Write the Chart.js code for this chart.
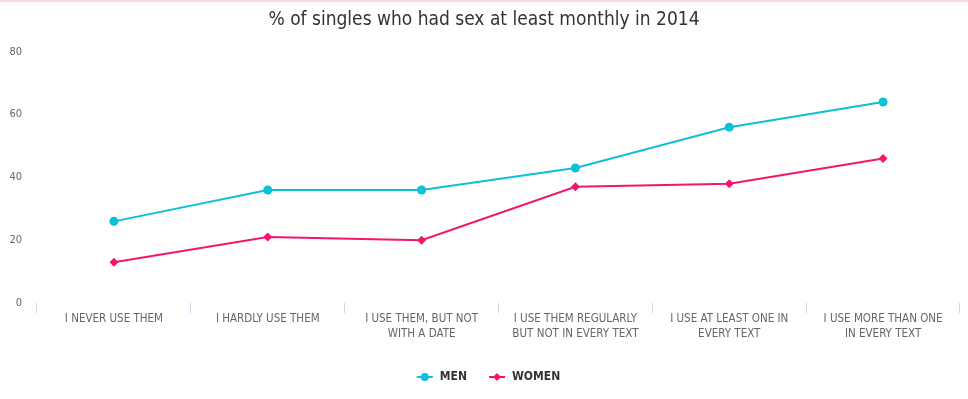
<!DOCTYPE html>
<html>
<head>
<meta charset="utf-8">
<script src="https://cdn.jsdelivr.net/npm/chart.js@4"></script>
<style>
  html, body { margin: 0; padding: 0; background: #fff; }
  #wrap { position: relative; width: 968px; height: 399px; box-sizing: border-box; border-top: 2px solid #fbd9d9; overflow: hidden; }
  canvas { display: block; }
</style>
</head>
<body>
<div id="wrap"><canvas id="c" width="968" height="397"></canvas></div>
<script>
const chartTitle = "% of singles who had sex at least monthly in 2014";
const categories = [
  ["I NEVER USE THEM"],
  ["I HARDLY USE THEM"],
  ["I USE THEM, BUT NOT", "WITH A DATE"],
  ["I USE THEM REGULARLY", "BUT NOT IN EVERY TEXT"],
  ["I USE AT LEAST ONE IN", "EVERY TEXT"],
  ["I USE MORE THAN ONE", "IN EVERY TEXT"]
];
const seriesNames = ["MEN", "WOMEN"];
const menValues = [26, 36, 36, 43, 56, 64];
const womenValues = [13, 21, 20, 37, 38, 46];
const yTicks = [0, 20, 40, 60, 80];

const MEN_COLOR = '#0cc0d6';
const WOMEN_COLOR = '#f5146f';
const CONDENSED = '"DejaVu Sans Condensed", "Liberation Sans Narrow", "Liberation Sans", sans-serif';

function legendIcon(color, shape) {
  const cv = document.createElement('canvas');
  cv.width = 18; cv.height = 12;
  const g = cv.getContext('2d');
  g.strokeStyle = color; g.lineWidth = 2;
  g.beginPath(); g.moveTo(1, 6); g.lineTo(17, 6); g.stroke();
  g.fillStyle = color;
  g.beginPath();
  if (shape === 'circle') { g.arc(9, 6, 4, 0, Math.PI * 2); }
  else { g.moveTo(9, 2); g.lineTo(13, 6); g.lineTo(9, 10); g.lineTo(5, 6); g.closePath(); }
  g.fill();
  return cv;
}

// nudge the centred title / legend blocks to match the reference's centring
const nudgeBlocks = {
  id: 'nudgeBlocks',
  afterLayout(chart) {
    if (chart.legend) { chart.legend.left += 8; chart.legend.right += 8; }
    if (chart.titleBlock) { chart.titleBlock.left += 4; chart.titleBlock.right += 4; }
  }
};

const ctx = document.getElementById('c');
new Chart(ctx, {
  type: 'line',
  plugins: [nudgeBlocks],
  data: {
    labels: categories,
    datasets: [
      {
        label: seriesNames[0], data: menValues,
        borderColor: MEN_COLOR, backgroundColor: MEN_COLOR,
        borderWidth: 2, pointStyle: 'circle', pointRadius: 4.5,
        pointBackgroundColor: MEN_COLOR, pointBorderWidth: 0, tension: 0
      },
      {
        label: seriesNames[1], data: womenValues,
        borderColor: WOMEN_COLOR, backgroundColor: WOMEN_COLOR,
        borderWidth: 2, pointStyle: 'rectRot', pointRadius: 4.5,
        pointBackgroundColor: WOMEN_COLOR, pointBorderWidth: 0, tension: 0
      }
    ]
  },
  options: {
    responsive: false,
    animation: false,
    layout: { padding: { left: 0, right: 8, top: 0, bottom: 6 } },
    plugins: {
      title: {
        display: true, text: chartTitle, color: '#333333',
        font: { family: CONDENSED, size: 19, weight: 'normal' },
        padding: { top: 7, bottom: 20 }
      },
      legend: {
        position: 'bottom',
        labels: {
          color: '#333333',
          font: { family: CONDENSED, size: 12, weight: 'bold' },
          usePointStyle: true,
          pointStyleWidth: 18,
          padding: 21,
          generateLabels: (chart) => chart.data.datasets.map((ds, i) => ({
            text: ds.label,
            fillStyle: ds.borderColor,
            strokeStyle: ds.borderColor,
            fontColor: '#333333',
            pointStyle: legendIcon(ds.borderColor, i === 0 ? 'circle' : 'diamond'),
            datasetIndex: i,
            hidden: false,
            lineWidth: 0
          }))
        }
      },
      tooltip: { enabled: false }
    },
    scales: {
      x: {
        offset: true,
        grid: { display: true, offset: true, drawOnChartArea: false, drawTicks: true, tickLength: 10, color: '#ccd6eb' },
        border: { display: false },
        ticks: {
          color: '#666666', maxRotation: 0, autoSkip: false, padding: -1,
          font: { family: CONDENSED, size: 11.5, lineHeight: 1.25 }
        },
        afterFit: (s) => { s.height = 47; }
      },
      y: {
        min: 0, max: 80,
        afterBuildTicks: (s) => { s.ticks = yTicks.map(v => ({ value: v })); },
        grid: { display: false, drawTicks: false },
        border: { display: false },
        ticks: {
          color: '#666666', padding: 15,
          font: { family: CONDENSED, size: 11 }
        },
        afterFit: (s) => { s.width = 37; }
      }
    }
  }
});
</script>
</body>
</html>
